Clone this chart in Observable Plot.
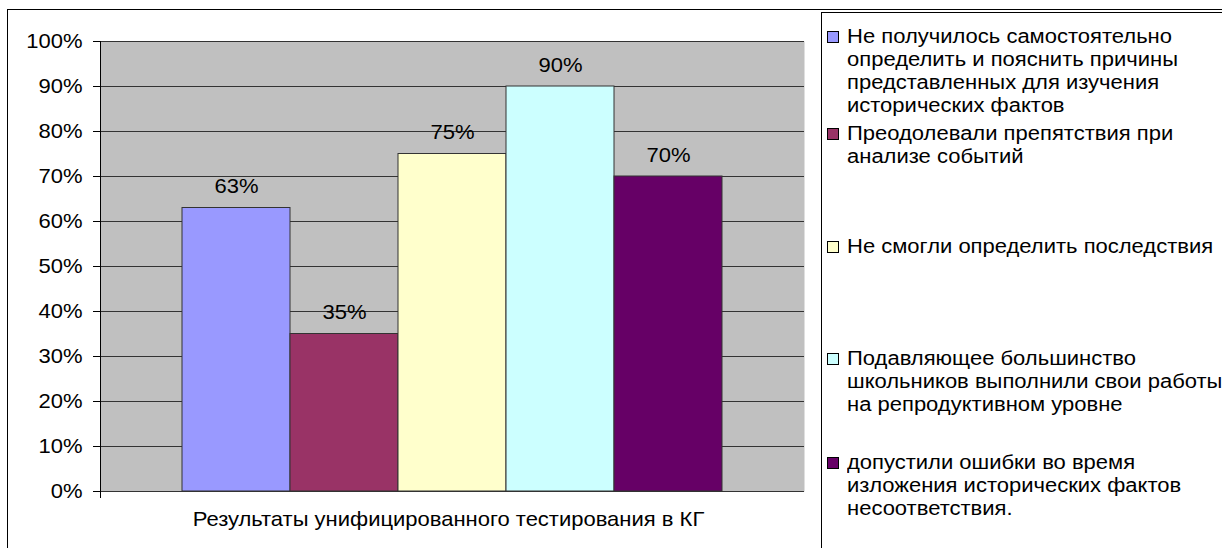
<!DOCTYPE html>
<html>
<head>
<meta charset="utf-8">
<script src="https://cdn.jsdelivr.net/npm/d3@7"></script>
<script src="https://cdn.jsdelivr.net/npm/@observablehq/plot@0.6"></script>
<style>
  html, body { margin: 0; padding: 0; background: #fff; }
  body { width: 1222px; height: 548px; overflow: hidden; position: relative; font-family: "Liberation Sans", Arial, sans-serif; }
  #frame { position: absolute; left: 7px; top: 9px; width: 1300px; height: 600px; border-left: 1px solid #000; border-top: 1px solid #000; }
  #chart { position: absolute; left: 0; top: 0; }
  #legend { position: absolute; left: 821px; top: 12px; width: 500px; height: 600px; border-left: 1px solid #000; border-top: 1px solid #000; background: #fff; }
  .item { position: absolute; left: 5px; font-size: 20px; line-height: 23px; color: #000; }
  .sw { position: absolute; left: 0; top: 6px; width: 10px; height: 10px; border: 1px solid #000; }
  .txt { position: absolute; left: 20px; white-space: nowrap; transform: scaleX(1.1); transform-origin: 0 0; }
</style>
</head>
<body>
<div id="frame"></div>
<div id="chart"></div>
<div id="legend"></div>
<script>
const categoryLabel = "Результаты унифицированного тестирования в КГ";
const seriesNames = [
  "Не получилось самостоятельно определить и пояснить причины представленных для изучения исторических фактов",
  "Преодолевали препятствия при анализе событий",
  "Не смогли определить последствия",
  "Подавляющее большинство школьников выполнили свои работы на репродуктивном уровне",
  "допустили ошибки во время изложения исторических фактов несоответствия."
];
const legendLines = [
  ["Не получилось самостоятельно", "определить и пояснить причины", "представленных для изучения", "исторических фактов"],
  ["Преодолевали препятствия при", "анализе событий"],
  ["Не смогли определить последствия"],
  ["Подавляющее большинство", "школьников выполнили свои работы", "на репродуктивном уровне"],
  ["допустили ошибки во время", "изложения исторических фактов", "несоответствия."]
];
const seriesValues = [63, 35, 75, 90, 70];
const seriesColors = ["#9999ff", "#993366", "#ffffcc", "#ccffff", "#660066"];
const yTicks = [0, 10, 20, 30, 40, 50, 60, 70, 80, 90, 100];

const data = seriesNames.map((s, i) => ({series: s, value: seriesValues[i], color: seriesColors[i]}));

const font = "Liberation Sans, Arial, sans-serif";
const chart = Plot.plot({
  width: 1222,
  height: 548,
  marginLeft: 100,
  marginRight: 418,
  marginTop: 41,
  marginBottom: 57,
  style: {fontFamily: font, fontSize: "20px", background: "transparent", color: "#000"},
  x: {domain: seriesNames, paddingInner: 0, paddingOuter: 0.75, axis: null},
  y: {domain: [0, 100], ticks: yTicks, tickFormat: d => d + "%", label: null},
  marks: [
    Plot.frame({fill: "#c0c0c0", stroke: null}),
    Plot.ruleY(yTicks, {stroke: "#333", strokeWidth: 1}),
    Plot.barY(data, {x: "series", y: "value", fill: "color", stroke: "#333", strokeWidth: 1}),
    Plot.text(data, {x: "series", y: "value", text: d => d.value + "%", dy: -21, fontSize: 20, fill: "#000"}),
    Plot.axisY({ticks: yTicks, tickSize: 7, tickPadding: 11, tickFormat: d => d + "%", fontSize: 20, label: null, stroke: "#000"}),
    Plot.text([categoryLabel], {frameAnchor: "bottom", dy: 34, dx: -4, fontSize: 20, fill: "#000"})
  ]
});
document.getElementById("chart").appendChild(chart);

const svg = d3.select(chart);
// vertical axis line at left edge of plot
svg.append("line").attr("x1", 100.5).attr("x2", 100.5).attr("y1", 41).attr("y2", 498).attr("stroke", "#000");

// slight horizontal stretch of the text around its anchor, as in the reference rendering
svg.selectAll("text").each(function() {
  const el = this;
  const t = el.getAttribute("transform") || "";
  const xa = el.getAttribute("x");
  const xn = (xa && !/em$/.test(xa)) ? parseFloat(xa) || 0 : 0;
  el.setAttribute("transform", `${t} translate(${xn},0) scale(1.1,1) translate(${-xn},0)`);
});

const legend = document.getElementById("legend");
const itemTops = [12, 109, 222, 334, 438];
legendLines.forEach((lines, i) => {
  const div = document.createElement("div");
  div.className = "item";
  div.style.top = itemTops[i] + "px";
  const sw = document.createElement("div");
  sw.className = "sw";
  sw.style.background = seriesColors[i];
  div.appendChild(sw);
  const t = document.createElement("div");
  t.className = "txt";
  t.innerHTML = lines.join("<br>");
  div.appendChild(t);
  legend.appendChild(div);
});
</script>
</body>
</html>
